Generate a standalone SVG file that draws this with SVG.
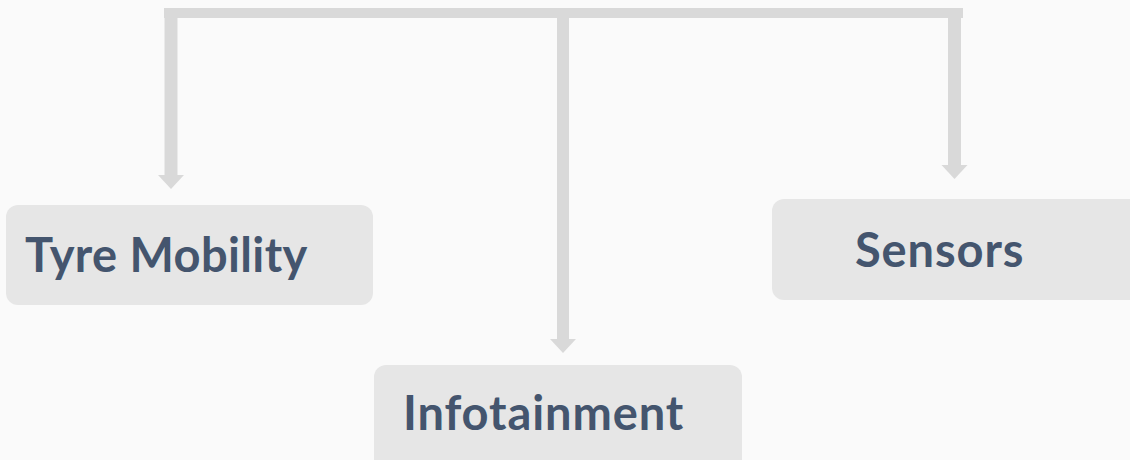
<svg xmlns="http://www.w3.org/2000/svg" width="1130" height="460" viewBox="0 0 1130 460">
<style>
.box{fill:#e6e6e6;}
.lbl{font-family:Lato,"Open Sans","Liberation Sans",sans-serif;font-weight:700;font-size:47px;letter-spacing:0.9px;fill:#44556e;}
.conn{stroke:#d9d9d9;fill:none;}
</style>
<defs>
<marker id="ah" markerUnits="userSpaceOnUse" markerWidth="16" markerHeight="28" viewBox="0 -14 16 28" refX="0" refY="0" orient="auto">
<path d="M0,-13 L14,0 L0,13 z" fill="#d9d9d9"/>
</marker>
</defs>
<rect width="1130" height="460" fill="#fafafa"/>
<g id="connectors">
<line class="conn" x1="164" y1="13" x2="963" y2="13" stroke-width="10"/>
<line class="conn" x1="171" y1="8" x2="171" y2="175" stroke-width="13" marker-end="url(#ah)"/>
<line class="conn" x1="563" y1="8" x2="563" y2="339" stroke-width="12" marker-end="url(#ah)"/>
<line class="conn" x1="954.5" y1="8" x2="954.5" y2="165" stroke-width="13" marker-end="url(#ah)"/>
</g>
<g id="tyre-mobility">
<rect class="box" x="6" y="205" width="367" height="100" rx="12"/>
<text class="lbl" x="25" y="272" style="letter-spacing:0.4px">Tyre Mobility</text>
</g>
<g id="infotainment">
<rect class="box" x="374" y="365" width="368" height="110" rx="12"/>
<text class="lbl" x="403" y="430">Infotainment</text>
</g>
<g id="sensors">
<rect class="box" x="772" y="199" width="370" height="101" rx="12"/>
<text class="lbl" x="855" y="267">Sensors</text>
</g>
</svg>
